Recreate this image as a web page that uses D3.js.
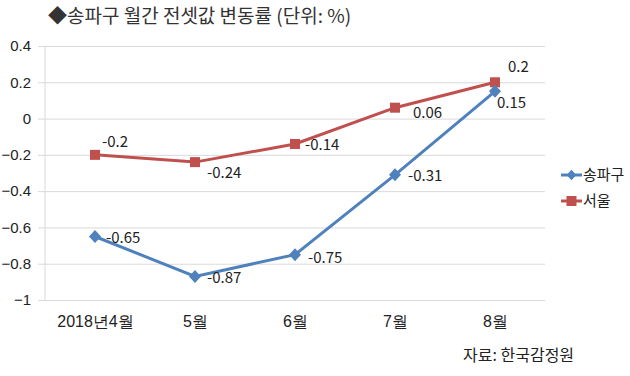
<html><head>
<script src="https://cdnjs.cloudflare.com/ajax/libs/d3/7.8.5/d3.min.js"></script>
<style>
body { margin: 0; background: #fff; font-family: "Noto Sans CJK KR", "Noto Sans", sans-serif; }
.grid line { stroke: #d9d9d9; stroke-width: 1; }
.grid path { display: none; }
.axis text { font-size: 16px; fill: #222; }
.yaxis text { font-size: 15px; }
.label { font-size: 15px; fill: #222; }
</style>
</head>
<body>
<div id="chart"></div>
<script>
// data
const months = ["2018년4월", "5월", "6월", "7월", "8월"];
const songpa = [-0.65, -0.87, -0.75, -0.31, 0.15];
const seoul = [-0.2, -0.24, -0.14, 0.06, 0.2];
const yTicks = [0.4, 0.2, 0, -0.2, -0.4, -0.6, -0.8, -1];

const width = 630, height = 376;
const margin = {top: 46, right: 85, bottom: 76, left: 45};

const svg = d3.select("#chart").append("svg")
    .attr("width", width)
    .attr("height", height);

const x = d3.scalePoint()
    .domain(months)
    .range([margin.left + 50, width - margin.right - 50]);

const y = d3.scaleLinear()
    .domain([-1, 0.4])
    .range([height - margin.bottom, margin.top]);

// title
svg.append("text")
    .attr("x", 48)
    .attr("y", 23)
    .style("font-size", "19px")
    .style("fill", "#333")
    .text("◆송파구 월간 전셋값 변동률 (단위: %)");

// grid
svg.append("g")
    .attr("class", "grid")
    .attr("transform", `translate(${margin.left},0)`)
    .call(d3.axisLeft(y).tickValues(yTicks)
        .tickSize(-(width - margin.left - margin.right))
        .tickFormat(""))
    .call(g => g.selectAll("line").attr("x1", -7));

// left axis line
svg.append("line")
    .attr("x1", margin.left).attr("x2", margin.left)
    .attr("y1", y(0.4)).attr("y2", y(-1))
    .style("stroke", "#d9d9d9");

// y labels
svg.append("g")
    .attr("class", "axis yaxis")
    .attr("transform", `translate(${margin.left},0)`)
    .call(d3.axisLeft(y).tickValues(yTicks).tickSize(0).tickPadding(14)
        .tickFormat(d => d3.format("")(+d.toFixed(1))))
    .call(g => g.select(".domain").remove());

// x labels
svg.append("g")
    .attr("class", "axis")
    .attr("transform", `translate(0,${y(-1)})`)
    .call(d3.axisBottom(x).tickSize(0).tickPadding(16))
    .call(g => g.select(".domain").remove());

const line = d3.line()
    .x((d, i) => x(months[i]))
    .y(d => y(d));

const blue = "#4f81bd", red = "#c0504d";
const diamond = "M0,-6.5L6,0L0,6.5L-6,0Z";

// 서울
svg.append("path")
    .datum(seoul)
    .attr("d", line)
    .style("fill", "none")
    .style("stroke", red)
    .style("stroke-width", 3);

svg.selectAll(".sq")
    .data(seoul)
    .enter().append("rect")
    .attr("x", (d, i) => x(months[i]) - 5)
    .attr("y", d => y(d) - 5)
    .attr("width", 10).attr("height", 10)
    .style("fill", red);

// 송파구
svg.append("path")
    .datum(songpa)
    .attr("d", line)
    .style("fill", "none")
    .style("stroke", blue)
    .style("stroke-width", 3);

svg.selectAll(".dm")
    .data(songpa)
    .enter().append("path")
    .attr("d", diamond)
    .attr("transform", (d, i) => `translate(${x(months[i])},${y(d)})`)
    .style("fill", blue);

// data labels
const seoulOff = [[7, -8], [12, 16], [10, 6], [18, 10], [13, -10]];
const songpaOff = [[11, 6], [12, 7], [13, 8], [13, 6], [2, 17]];

svg.selectAll(".lbs")
    .data(seoul)
    .enter().append("text")
    .attr("class", "label")
    .attr("x", (d, i) => x(months[i]) + seoulOff[i][0])
    .attr("y", (d, i) => y(d) + seoulOff[i][1])
    .text(d => d);

svg.selectAll(".lbb")
    .data(songpa)
    .enter().append("text")
    .attr("class", "label")
    .attr("x", (d, i) => x(months[i]) + songpaOff[i][0])
    .attr("y", (d, i) => y(d) + songpaOff[i][1])
    .text(d => d);

// legend
const legend = svg.append("g").attr("transform", "translate(561,175)");
[["송파구", blue, "d"], ["서울", red, "s"]].forEach((s, i) => {
    const gy = i * 26;
    legend.append("line")
        .attr("x1", 0).attr("x2", 21)
        .attr("y1", gy).attr("y2", gy)
        .style("stroke", s[1]).style("stroke-width", 3);
    if (s[2] === "d") {
        legend.append("path")
            .attr("d", diamond)
            .attr("transform", `translate(10.5,${gy}) scale(0.8)`)
            .style("fill", s[1]);
    } else {
        legend.append("rect")
            .attr("x", 5.5).attr("y", gy - 5)
            .attr("width", 10).attr("height", 10)
            .style("fill", s[1]);
    }
    legend.append("text")
        .attr("class", "label")
        .attr("x", 22).attr("y", gy + 5)
        .text(s[0]);
});

// source
svg.append("text")
    .attr("x", 463)
    .attr("y", 361)
    .style("font-size", "16px")
    .style("fill", "#222")
    .text("자료: 한국감정원");
</script>
</body></html>
